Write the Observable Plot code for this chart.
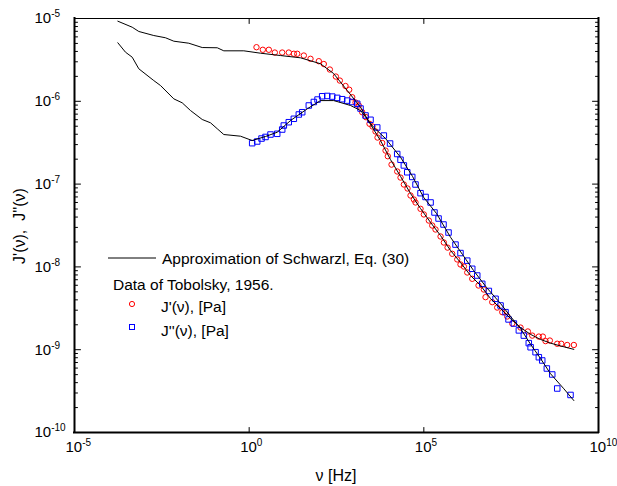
<!DOCTYPE html>
<html>
<head>
<meta charset="utf-8">
<script src="https://cdn.jsdelivr.net/npm/d3@7"></script>
<script src="https://cdn.jsdelivr.net/npm/@observablehq/plot@0.6"></script>
<style>
  html, body { margin: 0; padding: 0; background: #fff; }
  #chart svg { display: block; }
</style>
</head>
<body>
<div id="chart"></div>
<script>
// ---- Data ----
// Measured J'(nu), [frequency Hz, compliance]
const storageData = [[1.62,4.50e-6],[2.46,4.19e-6],[3.66,4.19e-6],[5.42,3.88e-6],[8.83,3.88e-6],[13.6,3.88e-6],[19.0,3.75e-6],[23.8,3.75e-6],[36.7,3.57e-6],[57.0,3.26e-6],[98.6,3.05e-6],[137,2.82e-6],[204,2.42e-6],[303,1.99e-6],[394,1.78e-6],[573,1.53e-6],[731,1.38e-6],[891,1.12e-6],[1109,9.67e-7],[1377,8.90e-7],[1722,7.38e-7],[2213,6.43e-7],[2786,5.35e-7],[3396,4.96e-7],[4140,4.32e-7],[4721,3.65e-7],[6442,3.14e-7],[8017,2.54e-7],[9312,2.17e-7],[1.19e4,1.72e-7],[1.73e4,1.42e-7],[2.15e4,1.20e-7],[2.68e4,9.89e-8],[3.41e4,8.85e-8],[4.16e4,7.28e-8],[5.18e4,6.52e-8],[5.78e4,6.00e-8],[8.04e4,5.03e-8],[1.0e5,4.30e-8],[1.39e5,3.63e-8],[1.74e5,3.16e-8],[2.16e5,2.83e-8],[3.01e5,2.33e-8],[3.74e5,1.97e-8],[4.78e5,1.71e-8],[6.50e5,1.44e-8],[9.04e5,1.23e-8],[1.12e6,1.07e-8],[1.40e6,1.01e-8],[1.75e6,8.56e-9],[2.43e6,7.18e-9],[3.68e6,5.96e-9],[5.22e6,5.33e-9],[5.83e6,4.31e-9],[9.08e6,3.75e-9],[1.26e7,3.23e-9],[1.76e7,2.84e-9],[2.44e7,2.52e-9],[3.40e7,2.07e-9],[5.87e7,1.85e-9],[9.51e7,1.66e-9],[1.27e8,1.48e-9],[1.96e8,1.44e-9],[2.55e8,1.44e-9],[3.05e8,1.27e-9],[4.05e8,1.29e-9],[6.59e8,1.18e-9],[8.59e8,1.18e-9],[1.27e9,1.14e-9],[1.97e9,1.14e-9]];

// Measured J''(nu)
const lossData = [[1.22,3.12e-7],[1.70,3.27e-7],[2.26,3.55e-7],[2.94,3.71e-7],[4.08,3.97e-7],[6.35,4.05e-7],[8.83,4.56e-7],[9.82,5.10e-7],[13.6,5.59e-7],[19.0,6.15e-7],[26.4,6.93e-7],[33.0,7.38e-7],[51.0,8.90e-7],[71.0,9.81e-7],[90.6,1.05e-6],[123,1.15e-6],[172,1.16e-6],[239,1.14e-6],[332,1.10e-6],[461,1.06e-6],[641,1.02e-6],[891,9.81e-7],[1239,9.33e-7],[1542,8.18e-7],[2143,6.74e-7],[2979,5.98e-7],[4634,4.83e-7],[7161,3.86e-7],[1.08e4,3.09e-7],[1.73e4,2.31e-7],[2.15e4,1.97e-7],[2.68e4,1.68e-7],[3.35e4,1.39e-7],[4.66e4,1.22e-7],[5.78e4,9.89e-8],[8.04e4,7.77e-8],[1.12e5,6.99e-8],[1.56e5,6.00e-8],[2.02e5,4.54e-8],[2.64e5,3.84e-8],[3.66e5,3.25e-8],[5.09e5,2.60e-8],[8.07e5,1.86e-8],[1.12e6,1.47e-8],[1.75e6,1.19e-8],[2.43e6,9.49e-9],[3.38e6,7.87e-9],[4.70e6,6.25e-9],[7.26e6,5.12e-9],[1.13e7,4.12e-9],[1.57e7,3.42e-9],[2.18e7,2.84e-9],[2.66e7,2.32e-9],[3.78e7,2.07e-9],[5.25e7,1.71e-9],[7.29e7,1.48e-9],[1.01e8,1.20e-9],[1.14e8,1.07e-9],[1.58e8,9.33e-10],[1.96e8,8.11e-10],[2.45e8,7.41e-10],[3.32e8,5.93e-10],[4.74e8,5.02e-10],[6.59e8,3.40e-10],[1.58e9,2.84e-10]];

// Schwarzl approximation, J'(nu)
const storageModel = [[1.74e-4,9.28e-6],[4.49e-4,7.85e-6],[6.93e-4,6.97e-6],[1.86e-3,6.23e-6],[4.03e-3,5.85e-6],[6.97e-3,5.32e-6],[1.87e-2,5.03e-6],[4.53e-2,4.46e-6],[0.122,4.43e-6],[0.188,4.07e-6],[0.703,4.07e-6],[2.11,3.81e-6],[7.89,3.57e-6],[29.5,3.35e-6],[110,2.84e-6],[260,2.17e-6],[641,1.35e-6],[1542,8.48e-7],[2979,5.25e-7],[5754,3.36e-7],[1.11e4,1.98e-7],[2.15e4,1.24e-7],[4.16e4,7.70e-8],[8.04e4,5.07e-8],[1.56e5,3.44e-8],[3.01e5,2.39e-8],[5.81e5,1.58e-8],[1.12e6,1.13e-8],[2.17e6,7.87e-9],[4.20e6,5.96e-9],[8.11e6,4.15e-9],[1.57e7,3.14e-9],[3.03e7,2.38e-9],[5.87e7,1.85e-9],[1.14e8,1.53e-9],[2.19e8,1.33e-9],[4.24e8,1.20e-9],[8.19e8,1.11e-9],[1.97e9,1.01e-9]];

// Schwarzl approximation, J''(nu)
const lossModel = [[1.74e-4,5.09e-6],[2.88e-4,3.92e-6],[4.49e-4,3.41e-6],[6.93e-4,2.47e-6],[1.86e-3,1.78e-6],[2.90e-3,1.55e-6],[6.97e-3,1.07e-6],[1.21e-2,9.59e-7],[2.09e-2,7.74e-7],[4.53e-2,6.03e-7],[7.83e-2,5.50e-7],[0.122,4.66e-7],[0.188,3.97e-7],[0.565,3.79e-7],[1.22,3.36e-7],[2.94,3.76e-7],[6.35,4.23e-7],[15.3,5.86e-7],[45.9,8.11e-7],[110,1.02e-6],[265,1.02e-6],[798,8.90e-7],[1542,7.74e-7],[3631,4.87e-7],[8017,3.55e-7],[2.15e4,2.11e-7],[4.74e4,1.24e-7],[9.80e4,6.95e-8],[2.31e5,4.41e-8],[5.81e5,2.28e-8],[1.28e6,1.41e-8],[2.65e6,9.05e-9],[6.24e6,5.64e-9],[1.57e7,3.61e-9],[3.03e7,2.52e-9],[5.87e7,1.80e-9],[1.14e8,1.16e-9],[2.19e8,7.83e-10],[4.24e8,5.12e-10],[1.02e9,3.37e-10],[1.97e9,2.43e-10]];

// Ticks and labels
const xMajor = [1e-5, 1e0, 1e5, 1e10];
const xInnerTicks = [1e0, 1e5];
const yMajor = [1e-10, 1e-9, 1e-8, 1e-7, 1e-6, 1e-5];
const minorFactors = [2, 3, 4, 5, 6, 7, 8, 9];
const xTitle = "ν [Hz]";
const yTitle = "J'(ν),  J''(ν)";
const legendLine = "Approximation of Schwarzl, Eq. (30)";
const legendHeader = "Data of Tobolsky, 1956.";
const legendStorage = "J'(ν), [Pa]";
const legendLoss = "J''(ν), [Pa]";

// ---- Chart ----
const FONT = "'Liberation Sans', Arial, Helvetica, sans-serif";
const yMinor = yMajor.slice(0, -1).flatMap(d => minorFactors.map(f => d * f));
const tickShape = {draw(context, l) { context.moveTo(0, 0); context.lineTo(0, -l); }};
const pow = d => "10^" + Math.round(Math.log10(d));

const plot = Plot.plot({
  width: 617,
  height: 486,
  marginLeft: 74,
  marginRight: 19,
  marginTop: 18,
  marginBottom: 54,
  style: {fontFamily: FONT, fontSize: "15px", background: "#fff", color: "#000", overflow: "visible"},
  x: {type: "log", domain: [1e-5, 1e10], axis: null},
  y: {type: "log", domain: [1e-10, 1e-5], axis: null},
  marks: [
    // data
    Plot.dot(storageData, {x: d => d[0], y: d => d[1], r: 2.7, stroke: "#ff0000", strokeWidth: 1, fill: "none"}),
    Plot.dot(lossData, {x: d => d[0], y: d => d[1], symbol: "square", r: 3.1, stroke: "#0000ff", strokeWidth: 1, fill: "none"}),
    Plot.line(storageModel, {x: d => d[0], y: d => d[1], stroke: "#000", strokeWidth: 1}),
    Plot.line(lossModel, {x: d => d[0], y: d => d[1], stroke: "#000", strokeWidth: 1}),
    // frame
    Plot.ruleY([1e-5], {stroke: "#000", strokeWidth: 1}),
    Plot.ruleX([1e-5], {stroke: "#000", strokeWidth: 2, strokeLinecap: "square"}),
    Plot.ruleX([1e10], {stroke: "#000", strokeWidth: 2, strokeLinecap: "square"}),
    Plot.ruleY([1e-10], {stroke: "#000", strokeWidth: 2, strokeLinecap: "square"}),
    // inward ticks
    Plot.vector(yMajor, {y: d => d, frameAnchor: "left", rotate: 90, anchor: "start", length: 6, shape: tickShape, stroke: "#000", strokeWidth: 1}),
    Plot.vector(yMinor, {y: d => d, frameAnchor: "left", rotate: 90, anchor: "start", length: 3, shape: tickShape, stroke: "#000", strokeWidth: 1}),
    Plot.vector(yMajor, {y: d => d, frameAnchor: "right", rotate: -90, anchor: "start", length: 6, shape: tickShape, stroke: "#000", strokeWidth: 1}),
    Plot.vector(yMinor, {y: d => d, frameAnchor: "right", rotate: -90, anchor: "start", length: 3, shape: tickShape, stroke: "#000", strokeWidth: 1}),
    Plot.vector(xInnerTicks, {x: d => d, frameAnchor: "bottom", rotate: 0, anchor: "start", length: 5, shape: tickShape, stroke: "#000", strokeWidth: 1}),
    Plot.vector(xInnerTicks, {x: d => d, frameAnchor: "top", rotate: 180, anchor: "start", length: 5, shape: tickShape, stroke: "#000", strokeWidth: 1}),
    // tick labels
    Plot.text(yMajor, {y: d => d, frameAnchor: "left", dx: -40, textAnchor: "start", text: pow, fontSize: 15, fill: "#000"}),
    Plot.text(xMajor, {x: d => d, frameAnchor: "bottom", dx: -9, dy: 19, textAnchor: "start", text: pow, fontSize: 15, fill: "#000"})
  ]
});

// superscript exponents
d3.select(plot).selectAll("text").each(function() {
  const t = this.textContent;
  if (!t.includes("^")) return;
  const [base, exp] = t.split("^");
  const sel = d3.select(this);
  sel.text(null);
  sel.append("tspan").text(base);
  sel.append("tspan").attr("dy", "-6").attr("font-size", "10px").text(exp);
});

const svg = d3.select(plot);
// axis titles
svg.append("text")
  .attr("x", 336).attr("y", 475).attr("dy", "0.35em")
  .attr("text-anchor", "middle").attr("font-family", FONT).attr("font-size", "16px")
  .text(xTitle);
svg.append("text")
  .attr("transform", "translate(19,226) rotate(-90)").attr("dy", "0.35em")
  .attr("text-anchor", "middle").attr("font-family", FONT).attr("font-size", "16px")
  .style("white-space", "pre")
  .text(yTitle);

// legend
const lg = svg.append("g").attr("font-family", FONT).attr("font-size", "15.5px").attr("fill", "#000").attr("text-anchor", "start");
lg.append("line").attr("x1", 108).attr("x2", 156).attr("y1", 258).attr("y2", 258).attr("stroke", "#000").attr("stroke-width", 1);
lg.append("text").attr("x", 162).attr("y", 259).attr("dy", "0.35em").attr("text-anchor", "start").text(legendLine);
lg.append("text").attr("x", 113).attr("y", 285).attr("dy", "0.35em").attr("text-anchor", "start").text(legendHeader);
lg.append("circle").attr("cx", 132).attr("cy", 304).attr("r", 2.6).attr("fill", "none").attr("stroke", "#ff0000");
lg.append("text").attr("x", 161).attr("y", 307).attr("dy", "0.35em").attr("text-anchor", "start").text(legendStorage);
lg.append("rect").attr("x", 129.5).attr("y", 324.5).attr("width", 5).attr("height", 5).attr("fill", "none").attr("stroke", "#0000ff");
lg.append("text").attr("x", 161).attr("y", 330.5).attr("dy", "0.35em").attr("text-anchor", "start").text(legendLoss);

document.getElementById("chart").appendChild(plot);
</script>
</body>
</html>
